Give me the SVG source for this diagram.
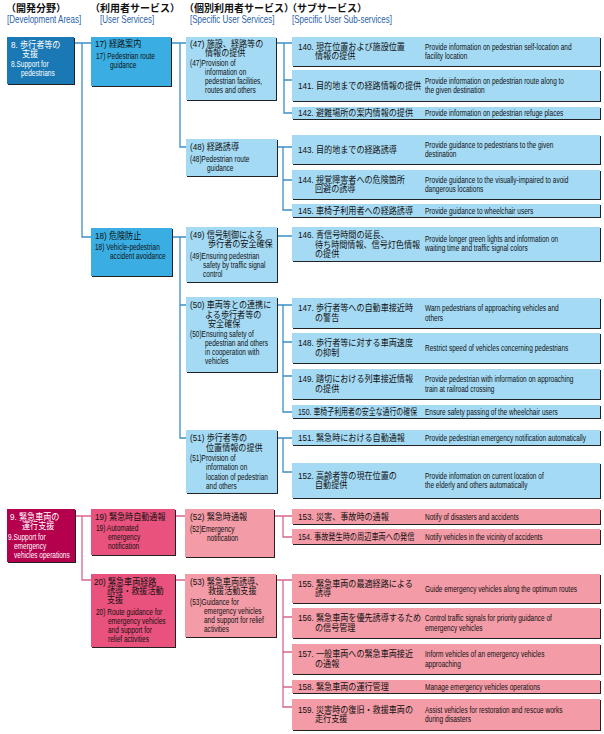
<svg xmlns="http://www.w3.org/2000/svg" width="604" height="734" viewBox="0 0 604 734">
<style>
text{font-family:"Liberation Sans","Noto Sans CJK JP",sans-serif;font-size:9px;fill:#111}
.e{font-size:9.6px}
.w{fill:#fff}
.h{font-size:10px;font-weight:bold}
.hb{font-size:10px;fill:#2a62a8}
.sh{fill:#222}
.b1{fill:#1a78b4}.b2{fill:#3aaee2}.b3{fill:#a5daf4}
.p1{fill:#b5004e}.p2{fill:#e8527c}.p3{fill:#f39ba7}
.cb{fill:none;stroke:#3b8fc4;stroke-width:1.3}
.cp{fill:none;stroke:#d86690;stroke-width:1.3}
</style>
<g id="headers">
<text class="h" x="6" y="12">（開発分野）</text>
<text class="hb" transform="translate(7,23) scale(0.8,1)">[Development Areas]</text>
<text class="h" x="90" y="12">（利用者サービス）</text>
<text class="hb" transform="translate(100,23) scale(0.8,1)">[User Services]</text>
<text class="h" x="184" y="12">（個別利用者サービス）</text>
<text class="hb" transform="translate(190,23) scale(0.8,1)">[Specific User Services]</text>
<text class="h" x="287" y="12">（サブサービス）</text>
<text class="hb" transform="translate(292,23) scale(0.8,1)">[Specific User Sub-services]</text>
</g>
<g id="connectors">
<path class="cb" d="M74,43H91M82,43V237H91M171,43H186M180,43V147H186M172,237H186M180,237V438H186M180,305H186M276,43H292M284,43V113H292M284,80H292M277,147H292M283,147V210H292M283,180H292M277,236H292M277,305H292M283,305V412H292M283,342H292M283,376H292M277,438H292M283,438V472H292"/>
<path class="cp" d="M75,516H91M82,516V580H91M175,516H185M175,580H185M274,516H292M283,516V537H292M277,580H292M283,580V707H292M283,617H292M283,652H292M283,687H292"/>
</g>
<g id="col1">
<g id="n8"><rect class="sh" x="8" y="38" width="67" height="47"/><rect class="b1" x="7" y="37" width="67" height="47"/>
<text class="w" transform="translate(11,48) scale(0.9,1)">8. 歩行者等の</text><text class="w" transform="translate(22,57) scale(0.9,1)">支援</text>
<text class="w e" transform="translate(11,67) scale(0.68,1)">8.Support for</text><text class="w e" transform="translate(21,76) scale(0.68,1)">pedestrians</text></g>
<g id="n9"><rect class="sh" x="8" y="510" width="68" height="53"/><rect class="p1" x="7" y="509" width="68" height="53"/>
<text class="w" transform="translate(10,520) scale(0.9,1)">9. 緊急車両の</text><text class="w" transform="translate(22,529) scale(0.9,1)">運行支援</text>
<text class="w e" transform="translate(8,540) scale(0.68,1)">9.Support for</text><text class="w e" transform="translate(14,549) scale(0.68,1)">emergency</text><text class="w e" transform="translate(14,558) scale(0.68,1)">vehicles operations</text></g>
</g>
<g id="col2">
<g id="n17"><rect class="sh" x="92" y="38" width="80" height="49"/><rect class="b2" x="91" y="37" width="80" height="49"/>
<text transform="translate(95,47) scale(0.9,1)">17) 経路案内</text><text class="e" transform="translate(96,59) scale(0.68,1)">17) Pedestrian route</text><text class="e" transform="translate(110,68) scale(0.68,1)">guidance</text></g>
<g id="n18"><rect class="sh" x="92" y="229" width="81" height="48"/><rect class="b2" x="91" y="228" width="81" height="48"/>
<text transform="translate(95,239) scale(0.9,1)">18) 危険防止</text><text class="e" transform="translate(95,250) scale(0.68,1)">18) Vehicle-pedestrian</text><text class="e" transform="translate(110,259) scale(0.68,1)">accident avoidance</text></g>
<g id="n19"><rect class="sh" x="92" y="510" width="84" height="46"/><rect class="p2" x="91" y="509" width="84" height="46"/>
<text transform="translate(95,520) scale(0.9,1)">19) 緊急時自動通報</text><text class="e" transform="translate(96,531) scale(0.68,1)">19) Automated</text><text class="e" transform="translate(108,540) scale(0.68,1)">emergency</text><text class="e" transform="translate(108,549) scale(0.68,1)">notification</text></g>
<g id="n20"><rect class="sh" x="92" y="575" width="84" height="73"/><rect class="p2" x="91" y="574" width="84" height="73"/>
<text transform="translate(94,585) scale(0.9,1)">20) 緊急車両経路</text><text transform="translate(107,594) scale(0.9,1)">誘導・救援活動</text><text transform="translate(107,603) scale(0.9,1)">支援</text>
<text class="e" transform="translate(96,615) scale(0.68,1)">20) Route guidance for</text><text class="e" transform="translate(108,624) scale(0.68,1)">emergency vehicles</text><text class="e" transform="translate(108,633) scale(0.68,1)">and support for</text><text class="e" transform="translate(108,642) scale(0.68,1)">relief activities</text></g>
</g>
<g id="col3">
<g id="n47"><rect class="sh" x="187" y="38" width="90" height="63"/><rect class="b3" x="186" y="37" width="90" height="63"/>
<text transform="translate(190,47) scale(0.9,1)">(47) 施設、経路等の</text><text transform="translate(205,56) scale(0.9,1)">情報の提供</text>
<text class="e" transform="translate(190,66) scale(0.68,1)">(47)Provision of</text><text class="e" transform="translate(205,75) scale(0.68,1)">information on</text><text class="e" transform="translate(205,84) scale(0.68,1)">pedestrian  facilities,</text><text class="e" transform="translate(205,93) scale(0.68,1)">routes and others</text></g>
<g id="n48"><rect class="sh" x="187" y="140" width="91" height="37"/><rect class="b3" x="186" y="139" width="91" height="37"/>
<text transform="translate(190,150) scale(0.9,1)">(48) 経路誘導</text><text class="e" transform="translate(190,162) scale(0.68,1)">(48)Pedestrian route</text><text class="e" transform="translate(207,171) scale(0.68,1)">guidance</text></g>
<g id="n49"><rect class="sh" x="187" y="228" width="91" height="55"/><rect class="b3" x="186" y="227" width="91" height="55"/>
<text transform="translate(190,238) scale(0.9,1)">(49) 信号制御による</text><text transform="translate(208,247) scale(0.9,1)">歩行者の安全確保</text>
<text class="e" transform="translate(190,259) scale(0.68,1)">(49)Ensuring pedestrian</text><text class="e" transform="translate(203,268) scale(0.68,1)">safety by traffic signal</text><text class="e" transform="translate(203,277) scale(0.68,1)">control</text></g>
<g id="n50"><rect class="sh" x="187" y="298" width="91" height="75"/><rect class="b3" x="186" y="297" width="91" height="75"/>
<text transform="translate(190,308) scale(0.9,1)">(50) 車両等との連携に</text><text transform="translate(205,318) scale(0.9,1)">よる歩行者等の</text><text transform="translate(208,327) scale(0.9,1)">安全確保</text>
<text class="e" transform="translate(190,337) scale(0.68,1)">(50)Ensuring safety of</text><text class="e" transform="translate(205,346) scale(0.68,1)">pedestrian and others</text><text class="e" transform="translate(205,355) scale(0.68,1)">in cooperation with</text><text class="e" transform="translate(205,364) scale(0.68,1)">vehicles</text></g>
<g id="n51"><rect class="sh" x="187" y="431" width="91" height="63"/><rect class="b3" x="186" y="430" width="91" height="63"/>
<text transform="translate(190,441) scale(0.9,1)">(51) 歩行者等の</text><text transform="translate(206,451) scale(0.9,1)">位置情報の提供</text>
<text class="e" transform="translate(190,461) scale(0.68,1)">(51)Provision of</text><text class="e" transform="translate(206,470) scale(0.68,1)">information on</text><text class="e" transform="translate(206,480) scale(0.68,1)">location of pedestrian</text><text class="e" transform="translate(206,489) scale(0.68,1)">and others</text></g>
<g id="n52"><rect class="sh" x="186" y="510" width="89" height="48"/><rect class="p3" x="185" y="509" width="89" height="48"/>
<text transform="translate(190,520) scale(0.9,1)">(52) 緊急時通報</text><text class="e" transform="translate(190,532) scale(0.68,1)">(52)Emergency</text><text class="e" transform="translate(207,541) scale(0.68,1)">notification</text></g>
<g id="n53"><rect class="sh" x="186" y="575" width="91" height="63"/><rect class="p3" x="185" y="574" width="91" height="63"/>
<text transform="translate(190,585) scale(0.9,1)">(53) 緊急車両誘導、</text><text transform="translate(208,594) scale(0.9,1)">救援活動支援</text>
<text class="e" transform="translate(190,605) scale(0.68,1)">(53)Guidance for</text><text class="e" transform="translate(204,614) scale(0.68,1)">emergency vehicles</text><text class="e" transform="translate(204,623) scale(0.68,1)">and support for relief</text><text class="e" transform="translate(204,632) scale(0.68,1)">activities</text></g>
</g>
<g id="col4">
<g id="r140"><rect class="sh" x="293" y="38" width="308" height="29"/><rect class="b3" x="292" y="37" width="308" height="29"/>
<text transform="translate(298,50) scale(0.9,1)">140. 現在位置および施設位置</text><text transform="translate(315,59) scale(0.9,1)">情報の提供</text>
<text class="e" transform="translate(425,50) scale(0.68,1)">Provide information on pedestrian self-location and</text><text class="e" transform="translate(425,59) scale(0.68,1)">facility location</text></g>
<g id="r141"><rect class="sh" x="293" y="71" width="308" height="31"/><rect class="b3" x="292" y="70" width="308" height="31"/>
<text transform="translate(298,89) scale(0.9,1)">141. 目的地までの経路情報の提供</text>
<text class="e" transform="translate(425,84) scale(0.68,1)">Provide information on pedestrian route along to</text><text class="e" transform="translate(425,93) scale(0.68,1)">the given destination</text></g>
<g id="r142"><rect class="sh" x="293" y="108" width="308" height="12"/><rect class="b3" x="292" y="107" width="308" height="12"/>
<text transform="translate(298,116) scale(0.9,1)">142. 避難場所の案内情報の提供</text>
<text class="e" transform="translate(425,116) scale(0.68,1)">Provide information on pedestrian refuge places</text></g>
<g id="r143"><rect class="sh" x="293" y="136" width="308" height="29"/><rect class="b3" x="292" y="135" width="308" height="29"/>
<text transform="translate(298,153) scale(0.9,1)">143. 目的地までの経路誘導</text>
<text class="e" transform="translate(425,148) scale(0.68,1)">Provide guidance to pedestrians to the given</text><text class="e" transform="translate(425,157) scale(0.68,1)">destination</text></g>
<g id="r144"><rect class="sh" x="293" y="171" width="308" height="29"/><rect class="b3" x="292" y="170" width="308" height="29"/>
<text transform="translate(298,183) scale(0.9,1)">144. 視覚障害者への危険箇所</text><text transform="translate(315,192) scale(0.9,1)">回避の誘導</text>
<text class="e" transform="translate(425,183) scale(0.68,1)">Provide guidance to the visually-impaired to avoid</text><text class="e" transform="translate(425,192) scale(0.68,1)">dangerous locations</text></g>
<g id="r145"><rect class="sh" x="293" y="205" width="308" height="13"/><rect class="b3" x="292" y="204" width="308" height="13"/>
<text transform="translate(298,214) scale(0.9,1)">145. 車椅子利用者への経路誘導</text>
<text class="e" transform="translate(425,214) scale(0.68,1)">Provide guidance to wheelchair users</text></g>
<g id="r146"><rect class="sh" x="293" y="228" width="308" height="34"/><rect class="b3" x="292" y="227" width="308" height="34"/>
<text transform="translate(298,238) scale(0.9,1)">146. 青信号時間の延長、</text><text transform="translate(315,248) scale(0.9,1)">待ち時間情報、信号灯色情報</text><text transform="translate(315,257) scale(0.9,1)">の提供</text>
<text class="e" transform="translate(425,242) scale(0.68,1)">Provide longer green lights and information on</text><text class="e" transform="translate(425,251) scale(0.68,1)">waiting time and traffic signal colors</text></g>
<g id="r147"><rect class="sh" x="293" y="299" width="308" height="30"/><rect class="b3" x="292" y="298" width="308" height="30"/>
<text transform="translate(298,311) scale(0.9,1)">147. 歩行者等への自動車接近時</text><text transform="translate(315,321) scale(0.9,1)">の警告</text>
<text class="e" transform="translate(425,311) scale(0.68,1)">Warn pedestrians of approaching vehicles and</text><text class="e" transform="translate(425,321) scale(0.68,1)">others</text></g>
<g id="r148"><rect class="sh" x="293" y="334" width="308" height="30"/><rect class="b3" x="292" y="333" width="308" height="30"/>
<text transform="translate(298,346) scale(0.9,1)">148. 歩行者等に対する車両速度</text><text transform="translate(315,356) scale(0.9,1)">の抑制</text>
<text class="e" transform="translate(425,351) scale(0.68,1)">Restrict speed of vehicles concerning pedestrians</text></g>
<g id="r149"><rect class="sh" x="293" y="370" width="308" height="30"/><rect class="b3" x="292" y="369" width="308" height="30"/>
<text transform="translate(298,382) scale(0.9,1)">149. 踏切における列車接近情報</text><text transform="translate(315,392) scale(0.9,1)">の提供</text>
<text class="e" transform="translate(425,382) scale(0.68,1)">Provide pedestrian with information on approaching</text><text class="e" transform="translate(425,392) scale(0.68,1)">train at railroad crossing</text></g>
<g id="r150"><rect class="sh" x="293" y="406" width="308" height="13"/><rect class="b3" x="292" y="405" width="308" height="13"/>
<text transform="translate(298,415) scale(0.77,1)">150. 車椅子利用者の安全な通行の確保</text>
<text class="e" transform="translate(425,415) scale(0.68,1)">Ensure safety passing of the wheelchair users</text></g>
<g id="r151"><rect class="sh" x="293" y="431" width="308" height="15"/><rect class="b3" x="292" y="430" width="308" height="15"/>
<text transform="translate(298,441) scale(0.9,1)">151. 緊急時における自動通報</text>
<text class="e" transform="translate(425,441) scale(0.68,1)">Provide pedestrian emergency notification automatically</text></g>
<g id="r152"><rect class="sh" x="293" y="464" width="308" height="35"/><rect class="b3" x="292" y="463" width="308" height="35"/>
<text transform="translate(298,479) scale(0.9,1)">152. 高齢者等の現在位置の</text><text transform="translate(315,488) scale(0.9,1)">自動提供</text>
<text class="e" transform="translate(425,479) scale(0.68,1)">Provide information on current location of</text><text class="e" transform="translate(425,488) scale(0.68,1)">the elderly and others automatically</text></g>
<g id="r153"><rect class="sh" x="293" y="510" width="308" height="15"/><rect class="p3" x="292" y="509" width="308" height="15"/>
<text transform="translate(298,520) scale(0.9,1)">153. 災害、事故時の通報</text>
<text class="e" transform="translate(425,520) scale(0.68,1)">Notify of disasters and accidents</text></g>
<g id="r154"><rect class="sh" x="293" y="530" width="308" height="15"/><rect class="p3" x="292" y="529" width="308" height="15"/>
<text transform="translate(298,540) scale(0.8,1)">154. 事故発生時の周辺車両への発信</text>
<text class="e" transform="translate(425,540) scale(0.68,1)">Notify vehicles in the vicinity of accidents</text></g>
<g id="r155"><rect class="sh" x="293" y="575" width="308" height="29"/><rect class="p3" x="292" y="574" width="308" height="29"/>
<text transform="translate(298,587) scale(0.9,1)">155. 緊急車両の最適経路による</text><text transform="translate(315,596) scale(0.9,1)">誘導</text>
<text class="e" transform="translate(425,592) scale(0.68,1)">Guide emergency vehicles along the optimum routes</text></g>
<g id="r156"><rect class="sh" x="293" y="609" width="308" height="30"/><rect class="p3" x="292" y="608" width="308" height="30"/>
<text transform="translate(298,621) scale(0.9,1)">156. 緊急車両を優先誘導するため</text><text transform="translate(315,631) scale(0.9,1)">の信号管理</text>
<text class="e" transform="translate(425,621) scale(0.68,1)">Control traffic signals for priority guidance of</text><text class="e" transform="translate(425,631) scale(0.68,1)">emergency vehicles</text></g>
<g id="r157"><rect class="sh" x="293" y="645" width="308" height="30"/><rect class="p3" x="292" y="644" width="308" height="30"/>
<text transform="translate(298,657) scale(0.9,1)">157. 一般車両への緊急車両接近</text><text transform="translate(315,667) scale(0.9,1)">の通報</text>
<text class="e" transform="translate(425,657) scale(0.68,1)">Inform vehicles of an emergency vehicles</text><text class="e" transform="translate(425,667) scale(0.68,1)">approaching</text></g>
<g id="r158"><rect class="sh" x="293" y="681" width="308" height="13"/><rect class="p3" x="292" y="680" width="308" height="13"/>
<text transform="translate(298,690) scale(0.9,1)">158. 緊急車両の運行管理</text>
<text class="e" transform="translate(425,690) scale(0.68,1)">Manage emergency vehicles operations</text></g>
<g id="r159"><rect class="sh" x="293" y="700" width="308" height="31"/><rect class="p3" x="292" y="699" width="308" height="31"/>
<text transform="translate(298,713) scale(0.9,1)">159. 災害時の復旧・救援車両の</text><text transform="translate(315,722) scale(0.9,1)">走行支援</text>
<text class="e" transform="translate(425,713) scale(0.68,1)">Assist vehicles for restoration and rescue works</text><text class="e" transform="translate(425,722) scale(0.68,1)">during disasters</text></g>
</g>
</svg>
